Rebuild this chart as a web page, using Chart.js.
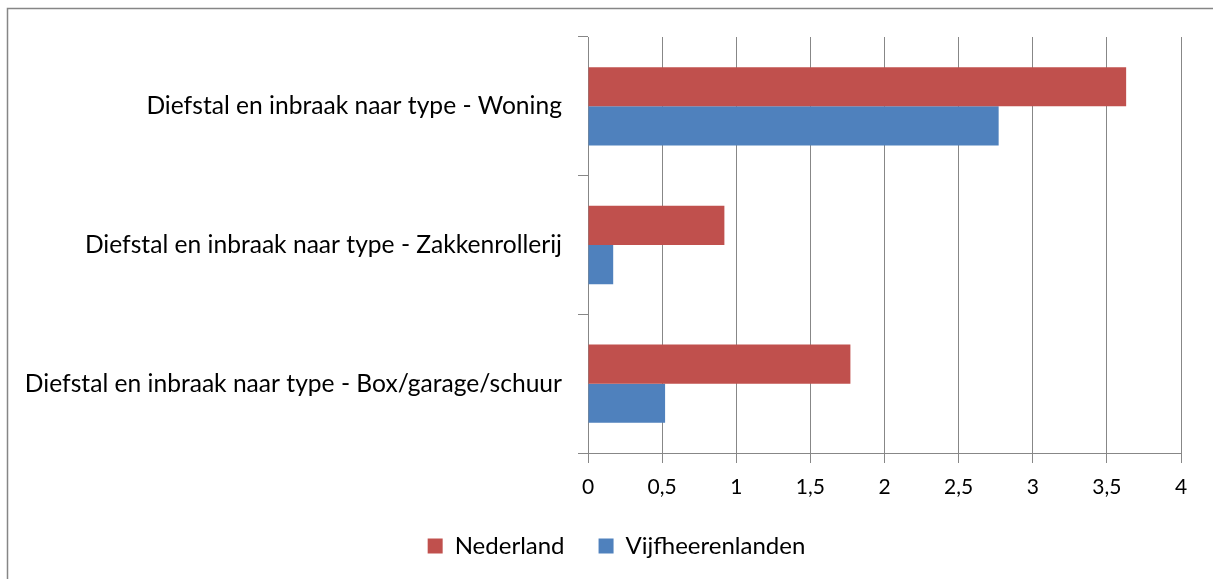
<!DOCTYPE html>
<html>
<head>
<meta charset="utf-8">
<script src="https://cdn.jsdelivr.net/npm/chart.js@4/dist/chart.umd.min.js"></script>
<style>
  html, body { margin: 0; padding: 0; background: #fff; }
  #wrap { width: 1213px; height: 579px; }
</style>
</head>
<body>
<div id="wrap"><canvas id="chart" width="1213" height="579"></canvas></div>
<script>
const categories = [
    'Diefstal en inbraak naar type - Woning',
    'Diefstal en inbraak naar type - Zakkenrollerij',
    'Diefstal en inbraak naar type - Box/garage/schuur'
];
const nederland = [3.63, 0.92, 1.77];
const vijfheerenlanden = [2.77, 0.17, 0.52];
const xTicks = [0, 0.5, 1, 1.5, 2, 2.5, 3, 3.5, 4];

const FONT = 'Lato';
const GRID = '#878787';

document.addEventListener('DOMContentLoaded', () => {
    const ctx = document.getElementById('chart').getContext('2d');

    // outer frame (only left and top edge are visible in the picture)
    const frame = {
        id: 'frame',
        afterLayout(chart) {
            // legend sits a bit right of the canvas centre
            chart.legend.left += 26;
            chart.legend.right += 26;
        },
        beforeDraw(chart) {
            const c = chart.ctx;
            c.save();
            c.strokeStyle = '#868686';
            c.lineWidth = 1.5;
            c.beginPath();
            c.moveTo(7.5, 600);
            c.lineTo(7.5, 8.5);
            c.lineTo(1230, 8.5);
            c.stroke();
            c.restore();
        }
    };

    new Chart(ctx, {
        type: 'bar',
        data: {
            labels: categories,
            datasets: [{
                label: 'Nederland',
                data: nederland,
                backgroundColor: '#C0504D',
                categoryPercentage: 0.565,
                barPercentage: 1
            }, {
                label: 'Vijfheerenlanden',
                data: vijfheerenlanden,
                backgroundColor: '#4F81BD',
                categoryPercentage: 0.565,
                barPercentage: 1
            }]
        },
        options: {
            indexAxis: 'y',
            responsive: false,
            animation: false,
            layout: {
                padding: { left: 0, right: 32, top: 37, bottom: 11 }
            },
            scales: {
                x: {
                    min: 0,
                    max: 4,
                    afterBuildTicks: (scale) => {
                        scale.ticks = xTicks.map(v => ({ value: v }));
                    },
                    afterFit: (scale) => { scale.height = 47; },
                    grid: {
                        color: GRID,
                        tickLength: 10,
                        tickColor: GRID
                    },
                    border: { color: GRID, width: 1 },
                    ticks: {
                        color: '#000',
                        font: { family: FONT, size: 21 },
                        padding: 12,
                        maxRotation: 0,
                        callback: (v) => String(v).replace('.', ',')
                    }
                },
                y: {
                    afterFit: (scale) => { scale.width = 588; },
                    grid: {
                        drawOnChartArea: false,
                        offset: true,
                        tickLength: 10,
                        color: GRID
                    },
                    border: { color: GRID, width: 1 },
                    ticks: {
                        color: '#000',
                        font: { family: FONT, size: 24.6 },
                        padding: 16
                    }
                }
            },
            plugins: {
                legend: {
                    position: 'bottom',
                    labels: {
                        color: '#000',
                        font: { family: FONT, size: 24 },
                        boxWidth: 15,
                        boxHeight: 15,
                        padding: 34,
                        useBorderRadius: false
                    }
                },
                tooltip: { enabled: false }
            }
        },
        plugins: [frame]
    });
});
</script>
</body>
</html>
